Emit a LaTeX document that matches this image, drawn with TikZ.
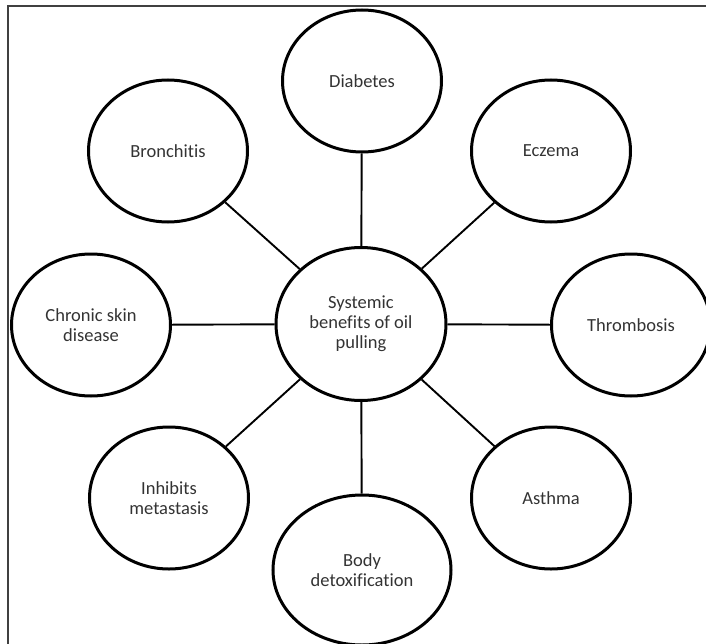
\documentclass[tikz,border=0pt]{standalone}
\usepackage{fontspec}
\setmainfont{Carlito}[Ligatures={NoCommon}]
\usetikzlibrary{shapes.geometric}

\begin{document}
\begin{tikzpicture}[
			x=1pt, y=1pt,
			bubble/.style={draw, ellipse, line width=3pt, minimum width=159pt, minimum height=142pt, align=center, text=black!80, font=\fontsize{18.5}{20}\selectfont, inner sep=0pt},
			hub/.style={bubble, minimum width=170pt, minimum height=153pt},
			link/.style={line width=1.9pt}
			]
			\useasboundingbox (-361,-319) rectangle (345,324);
			% Frame
			\draw[line width=1.3pt, black!75] (-353,-330) -- (-353,318) -- (360,318);
			
			% Centre
			\node[hub] (oil) at (0,0) {Systemic\\benefits of oil\\pulling};
			
			% Surrounding benefits
			\node[bubble] (diab) at (1,243) {Diabetes};
			\node[bubble] (bron) at (-193,173) {Bronchitis};
			\node[bubble] (ecz) at (190,173) {Eczema};
			\node[bubble] (skin) at (-270,-1) {Chronic skin\\disease};
			\node[bubble] (throm) at (270,-1) {Thrombosis};
			\node[bubble] (meta) at (-192,-174) {Inhibits\\metastasis};
			\node[bubble] (asth) at (190,-174) {Asthma};
			\node[bubble, minimum width=178pt, minimum height=150pt] (detox) at (1,-246) {Body\\detoxification};
			
			% Connections
			\foreach \b in {diab,bron,ecz,skin,throm,meta,asth,detox}
			\draw[link] (oil) -- (\b);
		\end{tikzpicture}
\end{document}
